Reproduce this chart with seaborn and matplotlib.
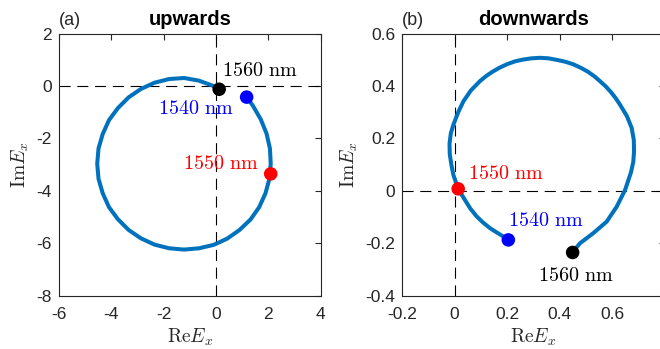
import numpy as np
import pandas as pd
import matplotlib
matplotlib.use('Agg')
import matplotlib.pyplot as plt
import seaborn as sns

sns.set_theme(style='white')
plt.rcParams['font.family'] = ['Liberation Sans', 'DejaVu Sans']
plt.rcParams['mathtext.fontset'] = 'cm'
curve_color = '#0072BD'
dark = '#262626'

# panel (a): upwards
up_re = [1.17, 1.41, 1.71, 1.93, 2.06, 2.09, 2.04, 1.89, 1.65, 1.32, 0.90, 0.43, -0.09,
         -0.65, -1.22, -1.79, -2.35, -2.87, -3.34, -3.75, -4.09, -4.33, -4.49, -4.54,
         -4.49, -4.33, -4.09, -3.75, -3.34, -2.87, -2.35, -1.79, -1.22, -0.66, -0.14, 0.11]
up_im = [-0.42, -0.75, -1.27, -1.81, -2.38, -2.96, -3.54, -4.09, -4.62, -5.09, -5.49, -5.82, -6.06,
         -6.19, -6.24, -6.19, -6.05, -5.81, -5.49, -5.08, -4.62, -4.09, -3.54, -2.96,
         -2.38, -1.83, -1.30, -0.84, -0.43, -0.11, 0.13, 0.27, 0.31, 0.21, 0.02, -0.12]

# panel (b): downwards
down_re = [0.205, 0.186, 0.160, 0.135, 0.108, 0.085, 0.060, 0.040, 0.014, -0.004, -0.012, -0.018,
           -0.019, -0.014, -0.004, 0.014, 0.034, 0.062, 0.097, 0.120, 0.145, 0.171, 0.199, 0.229,
           0.260, 0.293, 0.326, 0.358, 0.390, 0.422, 0.453, 0.481, 0.508, 0.532, 0.554, 0.576,
           0.596, 0.614, 0.630, 0.657, 0.675, 0.683, 0.684, 0.681, 0.672, 0.650,
           0.618, 0.580, 0.529, 0.478, 0.449]
down_im = [-0.187, -0.174, -0.158, -0.142, -0.120, -0.098, -0.067, -0.035, 0.008, 0.060, 0.100, 0.140,
           0.180, 0.220, 0.253, 0.300, 0.342, 0.383, 0.419, 0.438, 0.455, 0.470, 0.483, 0.494,
           0.501, 0.506, 0.508, 0.506, 0.500, 0.493, 0.483, 0.470, 0.455, 0.438, 0.419, 0.399,
           0.377, 0.354, 0.330, 0.285, 0.240, 0.195, 0.151, 0.110, 0.070, 0.004,
           -0.060, -0.117, -0.161, -0.200, -0.234]

wavelengths = ['1540 nm', '1550 nm', '1560 nm']
point_colors = ['blue', 'red', 'black']
up_pts_re = [1.17, 2.09, 0.12]
up_pts_im = [-0.42, -3.35, -0.12]
down_pts_re = [0.205, 0.014, 0.450]
down_pts_im = [-0.187, 0.008, -0.235]

up_label_pos = [(-2.21, -0.85), (-1.27, -2.95), (0.22, 0.59)]
down_label_pos = [(0.205, -0.114), (0.05, 0.068), (0.319, -0.321)]

fig = plt.figure(figsize=(6.6, 3.49), dpi=100)
bottom = 1 - 295.7 / 349
height = 262 / 349
ax1 = fig.add_axes([59 / 660, bottom, 261.7 / 660, height])
ax2 = fig.add_axes([402 / 660, bottom, 262.5 / 660, height])


def draw(ax, re, im, pts_re, pts_im, label_pos, xlim, ylim, xticks, yticks, title, tag):
    ax.axhline(0, color='black', lw=0.8, dashes=(10, 6), zorder=1)
    ax.axvline(0, color='black', lw=0.8, dashes=(10, 6), zorder=1)
    curve = pd.DataFrame({'re': re, 'im': im})
    sns.lineplot(data=curve, x='re', y='im', sort=False, estimator=None,
                 color=curve_color, lw=2.9, ax=ax, zorder=2,
                 solid_joinstyle='round', solid_capstyle='butt')
    pts = pd.DataFrame({'re': pts_re, 'im': pts_im, 'wl': wavelengths})
    sns.scatterplot(data=pts, x='re', y='im', hue='wl', palette=point_colors,
                    s=95, edgecolor='none', legend=False, ax=ax, zorder=3)
    for (tx, ty), wl, c in zip(label_pos, wavelengths, point_colors):
        ax.text(tx, ty, r'$\mathrm{' + wl.replace(' ', r'\ ') + '}$', color=c,
                fontsize=14.5, ha='left', va='center')
    ax.set_xlim(xlim)
    ax.set_ylim(ylim)
    ax.set_xticks(xticks)
    ax.set_yticks(yticks)
    ax.set_xticklabels([f'{t:g}' for t in xticks])
    ax.set_yticklabels([f'{t:g}' for t in yticks])
    ax.tick_params(direction='in', length=4, width=0.8, colors=dark, labelsize=12.5,
                   top=True, right=True)
    ax.tick_params(axis='x', pad=8)
    ax.tick_params(axis='y', pad=5)
    for sp in ax.spines.values():
        sp.set_color(dark)
        sp.set_linewidth(0.8)
        sp.set_visible(True)
    ax.set_xlabel(r'$\mathrm{Re}E_x$', fontsize=14, color=dark, labelpad=3.5)
    ax.set_ylabel(r'$\mathrm{Im}E_x$', fontsize=14, color=dark, labelpad=4)
    ax.set_title(title, fontsize=14.5, fontweight='bold', color='black', pad=6)
    ax.text(0.0, 1.05, tag, transform=ax.transAxes, fontsize=13, ha='left',
            va='center', color=dark)


draw(ax1, up_re, up_im, up_pts_re, up_pts_im, up_label_pos,
     (-6, 4), (-8, 2), [-6, -4, -2, 0, 2, 4], [-8, -6, -4, -2, 0, 2], 'upwards', '(a)')
draw(ax2, down_re, down_im, down_pts_re, down_pts_im, down_label_pos,
     (-0.2, 0.8), (-0.4, 0.6), [-0.2, 0, 0.2, 0.4, 0.6], [-0.4, -0.2, 0, 0.2, 0.4, 0.6],
     'downwards', '(b)')

fig.savefig('out.png', dpi=100)
